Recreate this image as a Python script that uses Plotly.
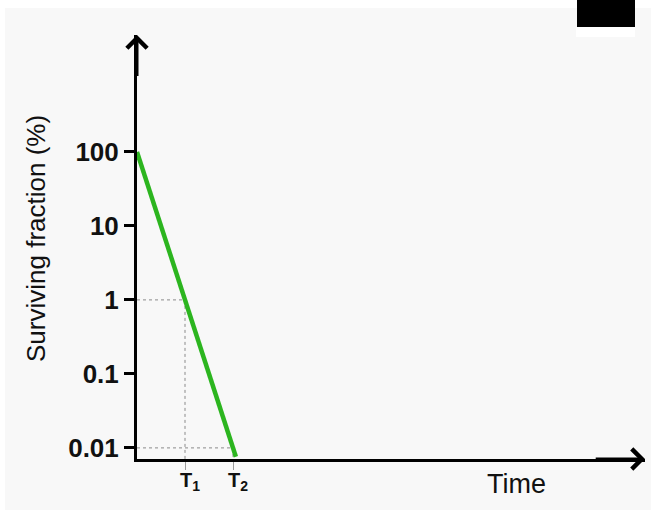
import plotly.graph_objects as go

# ---- data ----
time = [0, 2.06]
surviving = [100, 0.0076]
t_marks = [1, 2]
t_levels = [1, 0.01]
t_labels = ["<b>T<sub>1</sub></b>", "<b>T<sub>2</sub></b>"]
y_tickvals = [100, 10, 1, 0.1, 0.01]
y_ticktext = ["100", "10", "1", "0.1", "0.01"]

# ---- layout geometry (pixels) ----
W, H = 653, 510
L, R, T, B = 137, 645, 35, 459
PX_PER_UNIT = 48.0
PX_PER_DECADE = 74.0
YMIN = -2.15
YMAX = YMIN + (B - T) / PX_PER_DECADE
XMAX = (R - L) / PX_PER_UNIT


def px(xp):
    return (xp - L) / (R - L)


def py(yp):
    return (B - yp) / (B - T)


FONT = "Liberation Sans, Arial, Helvetica, sans-serif"

fig = go.Figure()
fig.add_trace(go.Scatter(x=time, y=surviving, mode="lines",
                         line=dict(color="#2cb51f", width=4.5),
                         hoverinfo="skip", showlegend=False))

shapes = []
# background decorations
shapes.append(dict(type="rect", xref="paper", yref="paper", layer="below",
                   x0=px(5), x1=px(651), y0=py(H + 5), y1=py(8),
                   fillcolor="#f8f8f8", line=dict(width=0)))
shapes.append(dict(type="rect", xref="paper", yref="paper", layer="above",
                   x0=px(576), x1=px(635), y0=py(37), y1=py(27),
                   fillcolor="#ffffff", line=dict(width=0)))
shapes.append(dict(type="rect", xref="paper", yref="paper", layer="above",
                   x0=px(577), x1=px(635), y0=py(27), y1=py(-5),
                   fillcolor="#000000", line=dict(width=0)))
# dotted guide lines
for tm, lv in zip(t_marks, t_levels):
    shapes.append(dict(type="line", xref="x", yref="y", layer="below",
                       x0=0, x1=tm, y0=lv, y1=lv,
                       line=dict(color="#8a8a8a", width=1, dash="dot")))
    shapes.append(dict(type="line", xref="x", yref="y", layer="below",
                       x0=tm, x1=tm, y0=lv, y1=10 ** YMIN,
                       line=dict(color="#8a8a8a", width=1, dash="dot")))

annotations = []
# axis arrows
annotations.append(dict(xref="x domain", yref="y domain", axref="x domain", ayref="y domain",
                        x=1, y=0, ax=0.9, ay=0, text="", showarrow=True,
                        arrowhead=4, arrowwidth=3, arrowsize=1.3, arrowcolor="#000", standoff=0))
annotations.append(dict(xref="x domain", yref="y domain", axref="x domain", ayref="y domain",
                        x=0, y=1, ax=0, ay=0.9, text="", showarrow=True,
                        arrowhead=4, arrowwidth=3, arrowsize=1.3, arrowcolor="#000", standoff=0))
# T labels
for tm, lab in zip(t_marks, t_labels):
    annotations.append(dict(xref="x", yref="paper", x=tm, y=0, yanchor="top", xanchor="center",
                            xshift=5, yshift=-8, text=lab, showarrow=False,
                            font=dict(family=FONT, size=20, color="#111")))
# axis titles
annotations.append(dict(xref="paper", yref="paper", x=px(516), y=py(484),
                        xanchor="center", yanchor="middle",
                        text="Time", showarrow=False,
                        font=dict(family=FONT, size=27, color="#111")))
annotations.append(dict(xref="paper", yref="paper", x=px(36), y=py(239),
                        xanchor="center", yanchor="middle",
                        text="Surviving fraction (%)", textangle=-90, showarrow=False,
                        font=dict(family=FONT, size=26, color="#111")))

fig.update_layout(
    width=W, height=H,
    margin=dict(l=L, r=W - R, t=T, b=H - B, pad=0),
    paper_bgcolor="#ffffff", plot_bgcolor="#f8f8f8",
    shapes=shapes, annotations=annotations,
    xaxis=dict(range=[0, XMAX], showgrid=False, zeroline=False,
               showline=True, linecolor="#000", linewidth=3,
               tickvals=t_marks, ticktext=["", ""], ticks="outside",
               ticklen=8, tickwidth=1, tickcolor="#9a9a9a"),
    yaxis=dict(type="log", range=[YMIN, YMAX], showgrid=False, zeroline=False,
               showline=True, linecolor="#000", linewidth=3,
               tickvals=y_tickvals, ticktext=["<b>%s</b>" % s for s in y_ticktext],
               ticks="outside", ticklen=10, tickwidth=3, tickcolor="#000",
               tickfont=dict(family=FONT, size=26, color="#111")),
)

fig.write_html("out.html",
               config={"displayModeBar": False},
               post_script="document.body.style.margin='0';document.body.style.overflow='hidden';")
